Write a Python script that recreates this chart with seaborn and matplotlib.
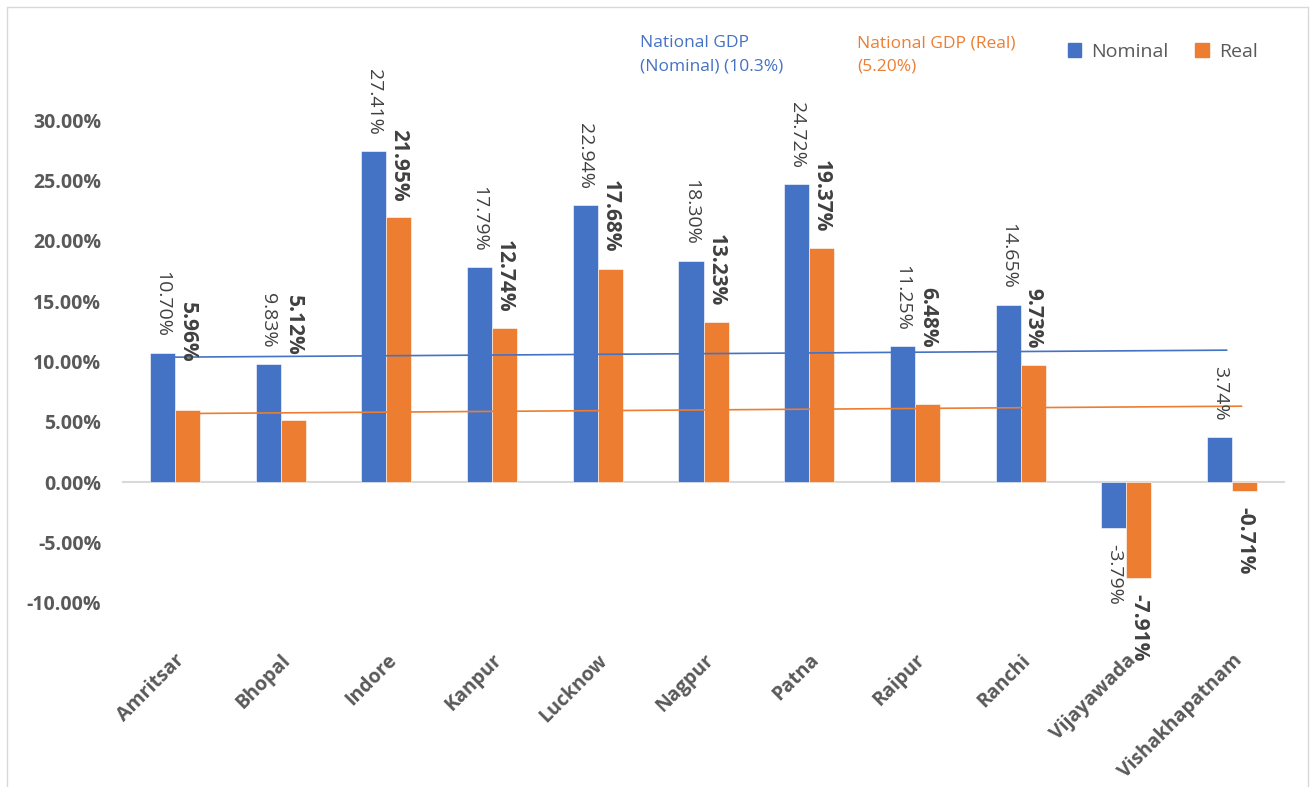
import pandas as pd
import numpy as np
import matplotlib.pyplot as plt
import seaborn as sns
from matplotlib.lines import Line2D
from matplotlib.ticker import FuncFormatter

# Dati: crescita per città
cities = ['Amritsar', 'Bhopal', 'Indore', 'Kanpur', 'Lucknow', 'Nagpur',
          'Patna', 'Raipur', 'Ranchi', 'Vijayawada', 'Vishakhapatnam']
nominal = [10.70, 9.83, 27.41, 17.79, 22.94, 18.30, 24.72, 11.25, 14.65, -3.79, 3.74]
real = [5.96, 5.12, 21.95, 12.74, 17.68, 13.23, 19.37, 6.48, 9.73, -7.91, -0.71]

# linee del PIL nazionale (inizio, fine)
nominal_line = [10.36, 10.94]
real_line = [5.70, 6.30]

BLUE = '#4472C4'
ORANGE = '#ED7D31'
TXT = '#404040'
GREY = '#595959'

df = pd.DataFrame({
    'city': cities * 2,
    'value': [v / 100 for v in nominal + real],
    'series': ['Nominal'] * len(cities) + ['Real'] * len(cities),
})

sns.set_theme(style='white')
plt.rcParams['font.family'] = ['Open Sans', 'DejaVu Sans']

fig = plt.figure(figsize=(13.12, 7.87), dpi=100)
ax = fig.add_axes([122 / 1312, 1 - 603 / 787, (1285 - 122) / 1312, (603 - 120) / 787])

sns.barplot(data=df, x='city', y='value', hue='series', palette=[BLUE, ORANGE],
            saturation=1, width=0.473, gap=0, edgecolor='white', linewidth=0.4, ax=ax)

ax.set_xlim(-0.5, len(cities) - 0.5)
ax.set_ylim(-0.10, 0.30)
ax.set_yticks(np.arange(-0.10, 0.301, 0.05))
ax.yaxis.set_major_formatter(FuncFormatter(lambda v, p: f'{v * 100:.2f}%'))
ax.tick_params(axis='y', length=0, pad=15, labelsize=14, labelcolor=GREY)
ax.tick_params(axis='x', length=0, pad=34, labelsize=14, labelcolor=GREY)
for lab in ax.get_yticklabels():
    lab.set_fontweight('bold')
ax.set_xticks(range(len(cities)))
ax.set_xticklabels(cities, rotation=45, ha='right', rotation_mode='anchor',
                   fontweight='bold')
ax.set_xlabel('')
ax.set_ylabel('')
for s in ax.spines.values():
    s.set_visible(False)
ax.axhline(0, color='#D9D9D9', lw=1.5, zorder=0.5)

# linee nazionali
x = np.arange(len(cities))
ax.plot([x[0], x[-1] - 0.05], [v / 100 for v in nominal_line], color=BLUE, lw=1.2, zorder=3)
ax.plot([x[0] + 0.24, x[-1] + 0.09], [v / 100 for v in real_line], color=ORANGE, lw=1.2, zorder=3)

# etichette dei valori
lift = {'Amritsar': 48, 'Bhopal': 65, 'Raipur': 56}  # pixel, etichette spostate a mano
for ci, (cont, vals, weight, size) in enumerate(zip(ax.containers, [nominal, real],
                                                    ['normal', 'bold'], [14, 15])):
    for i, (bar, v) in enumerate(zip(cont, vals)):
        cx = bar.get_x() + bar.get_width() / 2
        off = 16
        if ci == 1 and cities[i] in lift:
            off = lift[cities[i]]
        off_pt = off * 72 / 100
        if v >= 0:
            ax.annotate(f'{v:.2f}%', (cx, v / 100), xytext=(0, off_pt),
                        textcoords='offset points', rotation=270, ha='center',
                        va='bottom', fontsize=size, fontweight=weight, color=TXT,
                        annotation_clip=False)
        else:
            ax.annotate(f'{v:.2f}%', (cx, v / 100), xytext=(0, -off_pt),
                        textcoords='offset points', rotation=270, ha='center',
                        va='top', fontsize=size, fontweight=weight, color=TXT,
                        annotation_clip=False)

# legenda
ax.legend_.remove()
handles = [plt.Rectangle((0, 0), 1, 1, color=BLUE), plt.Rectangle((0, 0), 1, 1, color=ORANGE)]
fig.legend(handles, ['Nominal', 'Real'], loc='center left', ncol=2, frameon=False,
           bbox_to_anchor=(1050 / 1312, 1 - 52 / 787), fontsize=14, labelcolor=GREY,
           handlelength=0.7, handleheight=0.7, handletextpad=0.5, columnspacing=1.4)

# testi del PIL nazionale
fig.text(640 / 1312, 1 - 35 / 787, 'National GDP\n(Nominal) (10.3%)', color=BLUE,
         fontsize=12.5, va='top', ha='left', linespacing=1.65)
fig.text(857 / 1312, 1 - 35 / 787, 'National GDP (Real)\n(5.20%)', color=ORANGE,
         fontsize=12.5, va='top', ha='left', linespacing=1.65)

# cornice del grafico
W, H = 1312, 787
for xs, ys in [([7, 7], [0, 780]), ([7, 1308], [780, 780]), ([1308, 1308], [0, 780])]:
    fig.add_artist(Line2D([a / W for a in xs], [b / H for b in ys], color='#D9D9D9', lw=1))

plt.savefig('out.png', dpi=100)
